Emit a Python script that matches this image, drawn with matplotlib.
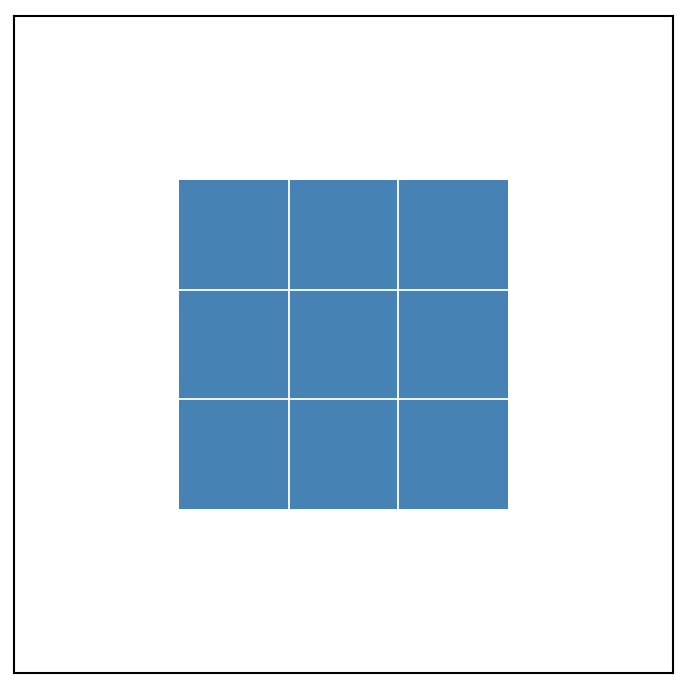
import numpy as np
import matplotlib
matplotlib.use("Agg")
import matplotlib.pyplot as plt
from matplotlib.colors import ListedColormap

# 3x3 grid of cells, all the same value
col_edges = [1.5, 2.5, 3.5, 4.5]
row_edges = [1.5, 2.5, 3.5, 4.5]
values = np.array([[1, 1, 1],
                   [1, 1, 1],
                   [1, 1, 1]])

fig = plt.figure(figsize=(6.93, 6.92), dpi=100)
ax = fig.add_axes([14 / 693, 1 - 673 / 692, 659 / 693, 657 / 692])

ax.pcolormesh(col_edges, row_edges, values, cmap=ListedColormap(["steelblue"]))

# white separators between cells only
ax.vlines(col_edges[1:-1], row_edges[0], row_edges[-1], colors="white", linewidth=1.3)
ax.hlines(row_edges[1:-1], col_edges[0], col_edges[-1], colors="white", linewidth=1.3)

ax.set_xlim(0, 6)
ax.set_ylim(0, 6)
ax.set_xticks([])
ax.set_yticks([])
for s in ax.spines.values():
    s.set_linewidth(1.5)

fig.savefig("out.png", dpi=100)
